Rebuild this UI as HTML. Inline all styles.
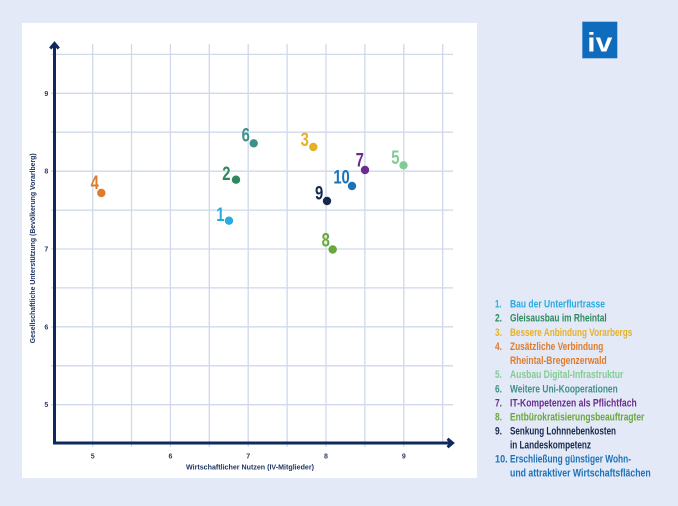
<!DOCTYPE html>
<html><head><meta charset="utf-8"><style>
html,body{margin:0;padding:0;background:#e3e9f6;}
svg{display:block;}
</style></head><body>
<svg width="678" height="506" viewBox="0 0 678 506" xmlns="http://www.w3.org/2000/svg" font-family="'Liberation Sans', sans-serif">
<rect x="0" y="0" width="678" height="506" fill="#e3e9f6"/>
<rect x="22" y="23" width="455" height="455" fill="#ffffff"/>
<!-- grid -->
<g stroke="#cfd9ea" stroke-width="1.3">
<line x1="92.7" y1="44" x2="92.7" y2="447"/>
<line x1="131.5" y1="44" x2="131.5" y2="447"/>
<line x1="170.4" y1="44" x2="170.4" y2="447"/>
<line x1="209.3" y1="44" x2="209.3" y2="447"/>
<line x1="248.2" y1="44" x2="248.2" y2="447"/>
<line x1="287.1" y1="44" x2="287.1" y2="447"/>
<line x1="326" y1="44" x2="326" y2="447"/>
<line x1="364.9" y1="44" x2="364.9" y2="447"/>
<line x1="403.8" y1="44" x2="403.8" y2="447"/>
<line x1="442.7" y1="44" x2="442.7" y2="443"/>
<line x1="51" y1="54.4" x2="453" y2="54.4"/>
<line x1="51" y1="93.3" x2="453" y2="93.3"/>
<line x1="51" y1="132.2" x2="453" y2="132.2"/>
<line x1="51" y1="171.2" x2="453" y2="171.2"/>
<line x1="51" y1="210.1" x2="453" y2="210.1"/>
<line x1="51" y1="249" x2="453" y2="249"/>
<line x1="51" y1="287.9" x2="453" y2="287.9"/>
<line x1="51" y1="326.8" x2="453" y2="326.8"/>
<line x1="51" y1="365.8" x2="453" y2="365.8"/>
<line x1="51" y1="404.7" x2="453" y2="404.7"/>
</g>
<!-- axes -->
<g stroke="#0e2a5c" stroke-width="3" fill="none">
<line x1="54.5" y1="44" x2="54.5" y2="444.5"/>
<line x1="53" y1="443" x2="452" y2="443"/>
<polyline points="50.3,48.5 54.5,43.5 58.7,48.5" stroke-linejoin="miter"/>
<polyline points="447.5,438.8 452.5,443 447.5,447.2" stroke-linejoin="miter"/>
</g>
<!-- tick labels -->
<g font-size="7" font-weight="bold" fill="#2b3b5e" text-anchor="middle">
<text x="46.3" y="95.8">9</text>
<text x="46.3" y="173.7">8</text>
<text x="46.3" y="251.5">7</text>
<text x="46.3" y="329.3">6</text>
<text x="46.3" y="407.2">5</text>
<text x="92.7" y="458.3">5</text>
<text x="170.4" y="458.3">6</text>
<text x="248.2" y="458.3">7</text>
<text x="326" y="458.3">8</text>
<text x="403.8" y="458.3">9</text>
</g>
<g font-size="7.5" font-weight="bold" fill="#1f3563">
<text x="186" y="469.5" textLength="128" lengthAdjust="spacingAndGlyphs">Wirtschaftlicher Nutzen (IV-Mitglieder)</text>
<text transform="translate(35,248.3) rotate(-90)" text-anchor="middle" textLength="190" lengthAdjust="spacingAndGlyphs">Gesellschaftliche Unterstützung (Bevölkerung Vorarlberg)</text>
</g>
<!-- points -->
<g>
<circle cx="229" cy="220.7" r="4.2" fill="#29aae1"/>
<circle cx="236" cy="179.7" r="4.2" fill="#2e8a5e"/>
<circle cx="313.3" cy="147" r="4.2" fill="#e6b126"/>
<circle cx="101.3" cy="193" r="4.2" fill="#e07b2c"/>
<circle cx="403.5" cy="165.3" r="4.2" fill="#82cc94"/>
<circle cx="253.7" cy="143.3" r="4.2" fill="#3f8f8c"/>
<circle cx="365" cy="170" r="4.2" fill="#6b2c8f"/>
<circle cx="332.7" cy="249.5" r="4.2" fill="#6aa63c"/>
<circle cx="327" cy="201" r="4.2" fill="#17284f"/>
<circle cx="352" cy="186" r="4.2" fill="#1b72b9"/>
</g>
<g font-size="19" font-weight="bold" text-anchor="end">
<g transform="translate(224.5,221) scale(0.78,1)"><text fill="#29aae1">1</text></g>
<g transform="translate(230.5,180) scale(0.78,1)"><text fill="#2e8a5e">2</text></g>
<g transform="translate(308.8,146) scale(0.78,1)"><text fill="#e6b126">3</text></g>
<g transform="translate(98.8,189) scale(0.78,1)"><text fill="#e07b2c">4</text></g>
<g transform="translate(399.5,164) scale(0.78,1)"><text fill="#82cc94">5</text></g>
<g transform="translate(249.8,141.7) scale(0.78,1)"><text fill="#3f8f8c">6</text></g>
<g transform="translate(363.8,166.7) scale(0.78,1)"><text fill="#6b2c8f">7</text></g>
<g transform="translate(329.8,246.7) scale(0.78,1)"><text fill="#6aa63c">8</text></g>
<g transform="translate(323.2,199.3) scale(0.78,1)"><text fill="#17284f">9</text></g>
<g transform="translate(349.8,183.3) scale(0.78,1)"><text fill="#1b72b9">10</text></g>
</g>
<!-- logo -->
<rect x="582.3" y="21.7" width="35" height="36.6" fill="#0f6cbd"/>
<text x="599.8" y="51.5" font-size="27" font-weight="bold" fill="#ffffff" text-anchor="middle" textLength="25" lengthAdjust="spacingAndGlyphs">iv</text>
<!-- legend -->
<g font-size="11" font-weight="bold">
<text x="495" y="307.5" fill="#29aae1" textLength="6.5" lengthAdjust="spacingAndGlyphs">1.</text>
<text x="510" y="307.5" fill="#29aae1" textLength="95" lengthAdjust="spacingAndGlyphs">Bau der Unterflurtrasse</text>
<text x="495" y="321.6" fill="#2e8a5e" textLength="7" lengthAdjust="spacingAndGlyphs">2.</text>
<text x="510" y="321.6" fill="#2e8a5e" textLength="96.7" lengthAdjust="spacingAndGlyphs">Gleisausbau im Rheintal</text>
<text x="495" y="335.8" fill="#e6b126" textLength="7" lengthAdjust="spacingAndGlyphs">3.</text>
<text x="510" y="335.8" fill="#e6b126" textLength="122.3" lengthAdjust="spacingAndGlyphs">Bessere Anbindung Vorarbergs</text>
<text x="495" y="349.9" fill="#e07b2c" textLength="7" lengthAdjust="spacingAndGlyphs">4.</text>
<text x="510" y="349.9" fill="#e07b2c" textLength="93.3" lengthAdjust="spacingAndGlyphs">Zusätzliche Verbindung</text>
<text x="510" y="364.1" fill="#e07b2c" textLength="96.7" lengthAdjust="spacingAndGlyphs">Rheintal-Bregenzerwald</text>
<text x="495" y="378.2" fill="#82cc94" textLength="7" lengthAdjust="spacingAndGlyphs">5.</text>
<text x="510" y="378.2" fill="#82cc94" textLength="113.3" lengthAdjust="spacingAndGlyphs">Ausbau Digital-Infrastruktur</text>
<text x="495" y="392.4" fill="#3f8f8c" textLength="7" lengthAdjust="spacingAndGlyphs">6.</text>
<text x="510" y="392.4" fill="#3f8f8c" textLength="107.7" lengthAdjust="spacingAndGlyphs">Weitere Uni-Kooperationen</text>
<text x="495" y="406.3" fill="#6b2c8f" textLength="7" lengthAdjust="spacingAndGlyphs">7.</text>
<text x="510" y="406.3" fill="#6b2c8f" textLength="126.7" lengthAdjust="spacingAndGlyphs">IT-Kompetenzen als Pflichtfach</text>
<text x="495" y="420.3" fill="#6aa63c" textLength="7" lengthAdjust="spacingAndGlyphs">8.</text>
<text x="510" y="420.3" fill="#6aa63c" textLength="134.3" lengthAdjust="spacingAndGlyphs">Entbürokratisierungsbeauftragter</text>
<text x="495" y="434.4" fill="#17284f" textLength="7" lengthAdjust="spacingAndGlyphs">9.</text>
<text x="510" y="434.4" fill="#17284f" textLength="106" lengthAdjust="spacingAndGlyphs">Senkung Lohnnebenkosten</text>
<text x="510" y="448.5" fill="#17284f" textLength="81" lengthAdjust="spacingAndGlyphs">in Landeskompetenz</text>
<text x="495" y="462.5" fill="#1b72b9" textLength="12.7" lengthAdjust="spacingAndGlyphs">10.</text>
<text x="510" y="462.5" fill="#1b72b9" textLength="121" lengthAdjust="spacingAndGlyphs">Erschließung günstiger Wohn-</text>
<text x="510" y="476.7" fill="#1b72b9" textLength="140.7" lengthAdjust="spacingAndGlyphs">und attraktiver Wirtschaftsflächen</text>
</g>
</svg>
</body></html>
